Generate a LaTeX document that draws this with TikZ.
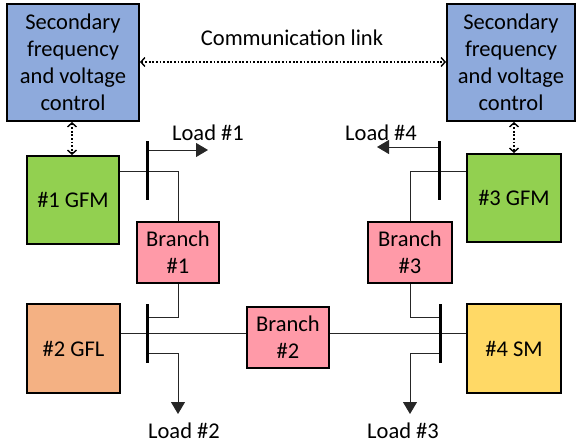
\documentclass[tikz,border=0pt]{standalone}
\usepackage{fontspec}
\setmainfont{Carlito}
\usetikzlibrary{arrows.meta}
\definecolor{ctrlblue}{HTML}{8EAADC}
\definecolor{gfmgreen}{HTML}{92D050}
\definecolor{gflorange}{HTML}{F4B183}
\definecolor{branchpink}{HTML}{FF9AA8}
\definecolor{smyellow}{HTML}{FFD966}
\begin{document}
\begin{tikzpicture}[x=1pt,y=-1pt,
  box/.style={draw=black,line width=2pt,inner sep=0pt,align=center,font=\fontsize{22.5}{27}\selectfont},
  bar/.style={line width=3pt},
  wire/.style={line width=0.9pt,draw=black!85},
  loadarrow/.style={wire,-{Triangle[length=12pt,width=14pt]}},
  comm/.style={line width=1.8pt,dash pattern=on 1.8pt off 1.8pt,{Straight Barb[length=4pt,width=9pt,line width=1.4pt]}-{Straight Barb[length=4pt,width=9pt,line width=1.4pt]}},
  lbl/.style={font=\fontsize{22.5}{27}\selectfont,inner sep=0pt}]
\useasboundingbox (0,0) rectangle (576,447);
% control boxes
\node[box,fill=ctrlblue,minimum width=132pt,minimum height=117pt] (secL) at (73,62.5) {Secondary\\frequency\\and voltage\\control};
\node[box,fill=ctrlblue,minimum width=128pt,minimum height=117pt] (secR) at (511,62.5) {Secondary\\frequency\\and voltage\\control};
% units
\node[box,fill=gfmgreen,minimum width=92pt,minimum height=88pt] (gfm1) at (73,200) {\#1 GFM};
\node[box,fill=gfmgreen,minimum width=94pt,minimum height=88pt] (gfm3) at (514,198) {\#3 GFM};
\node[box,fill=gflorange,minimum width=93pt,minimum height=89pt] (gfl2) at (73.5,348.5) {\#2 GFL};
\node[box,fill=smyellow,minimum width=94pt,minimum height=89pt] (sm4) at (514,348.5) {\#4 SM};
% branches
\node[box,fill=branchpink,minimum width=82pt,minimum height=61pt] (br1) at (178,252.5) {Branch\\\#1};
\node[box,fill=branchpink,minimum width=84pt,minimum height=61pt] (br3) at (410,252.5) {Branch\\\#3};
\node[box,fill=branchpink,minimum width=82pt,minimum height=61pt] (br2) at (288,337.5) {Branch\\\#2};
% bus bars
\coordinate (b1t) at (147,141); \coordinate (b1b) at (147,200);
\coordinate (b2t) at (147,304); \coordinate (b2b) at (147,363);
\coordinate (b3t) at (439,141); \coordinate (b3b) at (439,200);
\coordinate (b4t) at (440,304); \coordinate (b4b) at (440,363);
% wires
\draw[wire] (gfm1.east |- 0,171) -- (178,171) -- (br1.north);
\draw[wire] (br1.south) -- (178,317) -- (147,317);
\draw[wire] (gfl2.east |- 0,333) -- (br2.west |- 0,333);
\draw[wire] (br2.east |- 0,333) -- (sm4.west |- 0,333);
\draw[wire] (gfm3.west |- 0,171) -- (410,171) -- (br3.north);
\draw[wire] (br3.south) -- (410,317) -- (440,317);
% loads
\coordinate (l1) at (208,150);
\coordinate (l4) at (377,147);
\coordinate (l2) at (178,414);
\coordinate (l3) at (410,414);
\draw[loadarrow] (147,150) -- (l1);
\draw[loadarrow] (439,147) -- (l4);
\draw[loadarrow] (147,353) -- (178,353) -- (l2);
\draw[loadarrow] (440,353) -- (410,353) -- (l3);
\node[lbl] (t1) at (208,133) {Load \#1};
\node[lbl] (t4) at (381,133) {Load \#4};
\node[lbl] (t2) at (184,431) {Load \#2};
\node[lbl] (t3) at (403,431) {Load \#3};
% bars on top
\draw[bar] (b1t) -- (b1b);
\draw[bar] (b2t) -- (b2b);
\draw[bar] (b3t) -- (b3b);
\draw[bar] (b4t) -- (b4b);
% communication
\draw[comm] (secL.east |- 0,62) -- (secR.west |- 0,62);
\node[lbl] (comml) at (292,38) {Communication link};
\draw[comm] (secL.south -| 72,0) -- (gfm1.north -| 72,0);
\draw[comm] (secR.south -| 514,0) -- (gfm3.north -| 514,0);
\end{tikzpicture}
\end{document}
